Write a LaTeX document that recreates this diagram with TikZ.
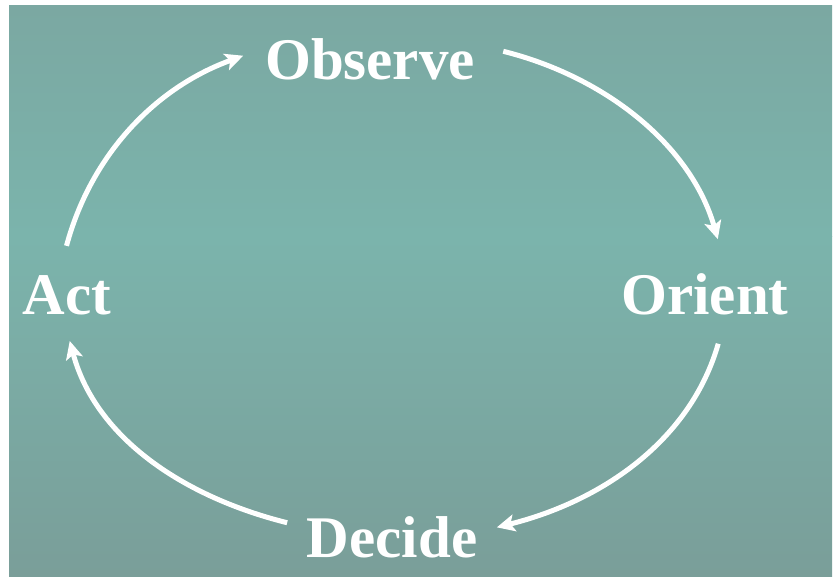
\documentclass[tikz,border=0pt]{standalone}
\usepackage{fontspec}
\setmainfont{Liberation Serif}
\usetikzlibrary{arrows.meta}
\usepackage{xcolor}
\definecolor{bgtop}{RGB}{123,168,162}
\definecolor{bgmid}{RGB}{123,180,172}
\definecolor{bgbot}{RGB}{122,158,153}

\begin{document}
\begin{tikzpicture}[x=1bp,y=1bp,
  stage/.style={text=white,font=\fontsize{59bp}{60bp}\selectfont\bfseries,inner sep=2bp,anchor=base},
  cyc/.style={white,line width=5bp,-{Stealth[length=18bp,width=17bp,inset=4bp]}}]
  % background
  \useasboundingbox (0,0) rectangle (833,577);
  \shade[top color=bgtop,bottom color=bgmid] (9,340) rectangle (832,571);
  \shade[top color=bgmid,bottom color=bgbot] (9,0) rectangle (832,340.5);

  % the four stages
  \node[stage] (observe) at (370,497) {Observe};
  \node[stage] (orient) at (705,262) {Orient};
  \node[stage] (decide) at (392,19) {Decide};
  \node[stage] (act) at (67,262) {Act};

  % the loop, clockwise
  \draw[cyc,shorten <=29bp,shorten >=21bp] (act.110) to[out=75,in=200] (observe.174);
  \draw[cyc,shorten <=27bp,shorten >=34bp] (observe.8) to[out=-14,in=106] (orient.46);
  \draw[cyc,shorten <=27bp,shorten >=18bp] (orient.-48) to[out=-106,in=14] (decide.4);
  \draw[cyc,shorten <=18bp,shorten >=24bp] (decide.173) to[out=166,in=-75] (act.-99);
\end{tikzpicture}
\end{document}
